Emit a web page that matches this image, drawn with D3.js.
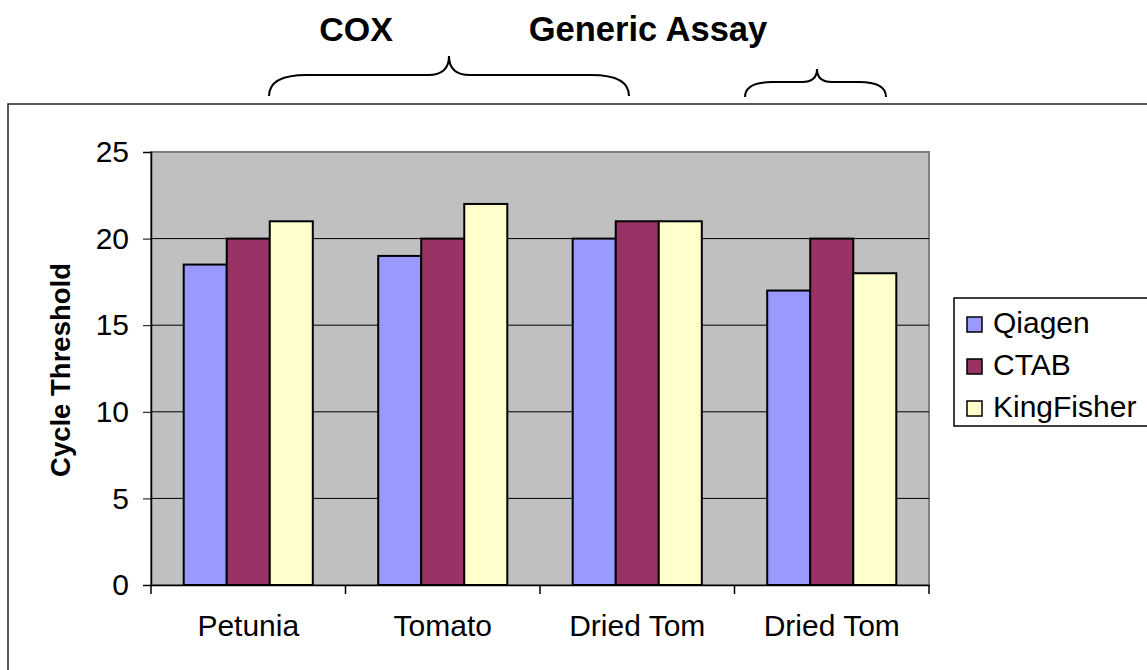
<!DOCTYPE html>
<html>
<head>
<meta charset="utf-8">
<script src="https://cdn.jsdelivr.net/npm/d3@7"></script>
<style>
  body { margin: 0; background: #fff; }
  text { font-family: "Liberation Sans", Arial, sans-serif; }
</style>
</head>
<body>
<script>
var categories = ["Petunia", "Tomato", "Dried Tom", "Dried Tom"];
var seriesNames = ["Qiagen", "CTAB", "KingFisher"];
var qiagen = [18.5, 19, 20, 17];
var ctab = [20, 20, 21, 20];
var kingfisher = [21, 22, 21, 18];
var yTicks = [0, 5, 10, 15, 20, 25];
var colors = ["#9999ff", "#993366", "#ffffcc"];

var width = 1147, height = 670;
var plot = { left: 151, right: 929, top: 152, bottom: 585 };

var svg = d3.select("body").append("svg")
    .attr("width", width)
    .attr("height", height);

// outer chart frame
svg.append("rect")
    .attr("x", 8).attr("y", 104)
    .attr("width", width + 10).attr("height", height)
    .style("fill", "none")
    .style("stroke", "#222")
    .style("stroke-width", 1.5);

var x = d3.scaleBand()
    .domain(d3.range(categories.length))
    .range([plot.left, plot.right]);

var xInner = d3.scaleBand()
    .domain(seriesNames)
    .range([0, x.bandwidth()])
    .paddingOuter(0.76);

var y = d3.scaleLinear().domain([0, 25]).range([plot.bottom, plot.top]);

// plot area
svg.append("rect")
    .attr("x", plot.left).attr("y", plot.top)
    .attr("width", plot.right - plot.left)
    .attr("height", plot.bottom - plot.top)
    .style("fill", "#c0c0c0")
    .style("stroke", "#808080")
    .style("stroke-width", 2);

// gridlines
svg.append("g").selectAll("line")
    .data(yTicks.filter(function(d){ return d > 0 && d < 25; }))
    .enter().append("line")
    .attr("x1", plot.left).attr("x2", plot.right)
    .attr("y1", function(d){ return y(d); })
    .attr("y2", function(d){ return y(d); })
    .style("stroke", "#000")
    .style("stroke-width", 1);

// bars
var rows = categories.map(function(c, i){
    return [qiagen[i], ctab[i], kingfisher[i]].map(function(v, j){
        return { cat: i, series: seriesNames[j], value: v, color: colors[j] };
    });
});

svg.append("g").selectAll("g")
    .data(rows)
    .enter().append("g")
    .attr("transform", function(d, i){ return "translate(" + x(i) + ",0)"; })
    .selectAll("rect")
    .data(function(d){ return d; })
    .enter().append("rect")
    .attr("x", function(d){ return xInner(d.series); })
    .attr("width", xInner.bandwidth())
    .attr("y", function(d){ return y(d.value); })
    .attr("height", function(d){ return y(0) - y(d.value); })
    .style("fill", function(d){ return d.color; })
    .style("stroke", "#000")
    .style("stroke-width", 2);

// y axis
var yAxis = svg.append("g")
    .attr("transform", "translate(" + plot.left + ",0)")
    .call(d3.axisLeft(y).tickValues(yTicks).tickSize(8).tickPadding(14));
yAxis.select(".domain").style("stroke", "#000").style("stroke-width", 1.5);
yAxis.selectAll("text").style("font-size", "30px").style("fill", "#000")
    .style("font-family", "'Liberation Sans', Arial, sans-serif");

// x axis
var xAxis = svg.append("g")
    .attr("transform", "translate(0," + plot.bottom + ")")
    .call(d3.axisBottom(x).tickValues([]).tickSizeOuter(0));
xAxis.select(".domain").style("stroke", "#000").style("stroke-width", 1.5);
xAxis.selectAll(".cat-tick")
    .data(d3.range(categories.length + 1))
    .enter().append("line")
    .attr("x1", function(d){ return plot.left + d * x.step(); })
    .attr("x2", function(d){ return plot.left + d * x.step(); })
    .attr("y1", 0).attr("y2", 9)
    .style("stroke", "#000").style("stroke-width", 1.5);
xAxis.selectAll(".cat-label")
    .data(categories)
    .enter().append("text")
    .attr("x", function(d, i){ return x(i) + x.bandwidth() / 2; })
    .attr("y", 51)
    .attr("text-anchor", "middle")
    .style("font-size", "30px")
    .style("fill", "#000")
    .text(function(d){ return d; });

// y title
svg.append("text")
    .attr("transform", "translate(70,370) rotate(-90)")
    .attr("text-anchor", "middle")
    .style("font-size", "27.5px")
    .style("font-weight", "bold")
    .text("Cycle Threshold");

// legend
var legend = svg.append("g").attr("transform", "translate(954,298)");
legend.append("rect")
    .attr("width", 220).attr("height", 128)
    .style("fill", "#fff").style("stroke", "#000").style("stroke-width", 1.5);
var items = legend.selectAll(".item")
    .data(seriesNames)
    .enter().append("g")
    .attr("transform", function(d, i){ return "translate(13," + (19 + i * 42) + ")"; });
items.append("rect")
    .attr("width", 15).attr("height", 15)
    .style("fill", function(d, i){ return colors[i]; })
    .style("stroke", "#000").style("stroke-width", 1.5);
items.append("text")
    .attr("x", 26).attr("y", 16)
    .style("font-size", "30px")
    .text(function(d){ return d; });

// braces and titles above chart
function brace(x0, x1, xm, yTop, yMid, yEnd) {
    var r = yEnd - yMid;
    return "M" + x0 + "," + yEnd +
        " Q" + x0 + "," + yMid + " " + (x0 + r * 1.8) + "," + yMid +
        " L" + (xm - r) + "," + yMid +
        " Q" + xm + "," + yMid + " " + xm + "," + yTop +
        " Q" + xm + "," + yMid + " " + (xm + r) + "," + yMid +
        " L" + (x1 - r * 1.8) + "," + yMid +
        " Q" + x1 + "," + yMid + " " + x1 + "," + yEnd;
}
svg.append("path")
    .attr("d", brace(269, 629, 449, 56, 75, 96))
    .style("fill", "none").style("stroke", "#000").style("stroke-width", 2);
svg.append("path")
    .attr("d", brace(745, 886, 817, 69, 82, 97))
    .style("fill", "none").style("stroke", "#000").style("stroke-width", 2);

svg.append("text")
    .attr("x", 356).attr("y", 41)
    .attr("text-anchor", "middle")
    .style("font-size", "34px").style("font-weight", "bold")
    .text("COX");
svg.append("text")
    .attr("x", 648).attr("y", 41)
    .attr("text-anchor", "middle")
    .style("font-size", "34.5px").style("font-weight", "bold")
    .text("Generic Assay");
</script>
</body>
</html>
